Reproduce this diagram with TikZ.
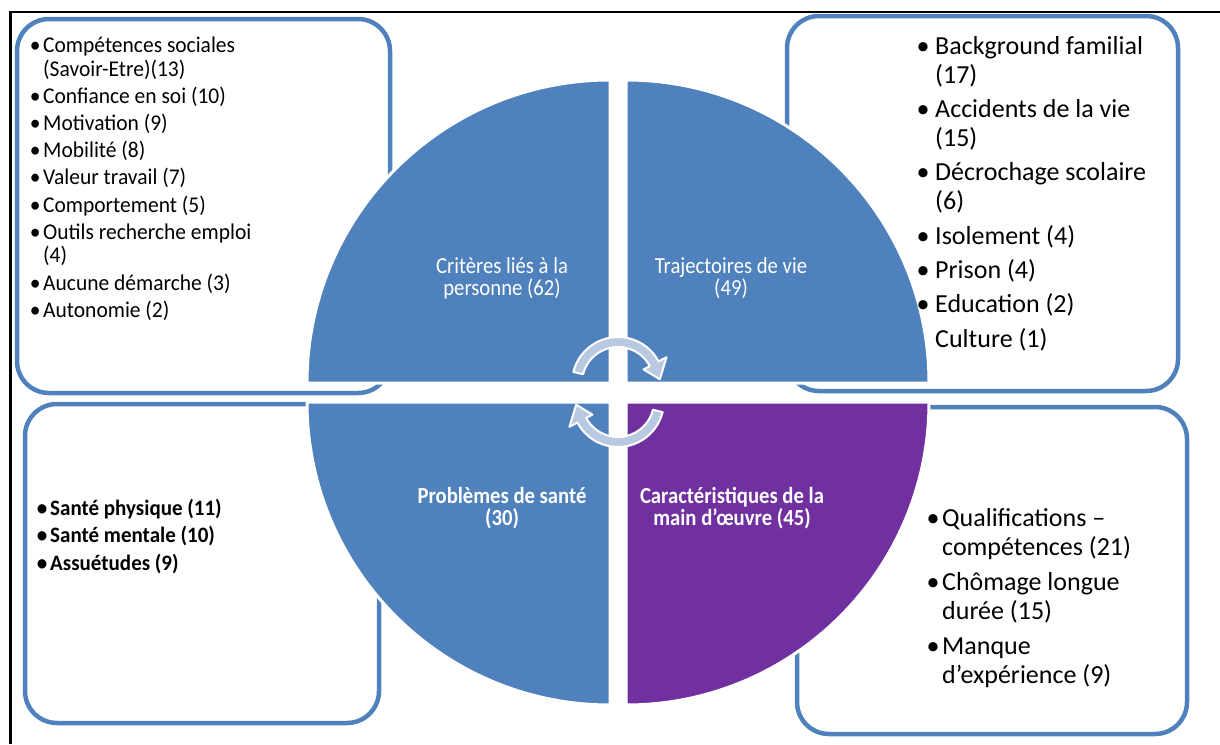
\documentclass[tikz,border=0pt]{standalone}
\usepackage{fontspec}
\setmainfont{Carlito}
\newfontfamily\condfont[FakeStretch=0.9]{Carlito}
\newfontfamily\semicond[FakeStretch=0.955]{Carlito}
\definecolor{qblue}{HTML}{4F81BD}
\definecolor{qpurple}{HTML}{7030A0}
\definecolor{boxblue}{HTML}{4F81BD}
\definecolor{arrowfill}{HTML}{B9C9E2}
\newcommand\bul[1]{\llap{\makebox[#1][c]{•}}}
\begin{document}
\begin{tikzpicture}[x=1pt,y=-1pt,
  listbox/.style={draw=boxblue, line width=4.5pt, fill=white, rounded corners=32pt, inner sep=0pt},
  quad/.style={draw=white, line width=3pt, fill=qblue},
  cyc/.style={fill=arrowfill, draw=white, line width=2pt, line join=round},
  frameline/.style={draw=black, line width=2.5pt},
  plabel/.style={text=white, align=center, inner sep=0pt, font=\condfont\fontsize{23}{22}\selectfont},
  plabelb/.style={plabel, font=\condfont\fontsize{23}{22}\selectfont\bfseries},
  smalllist/.style={anchor=base west, inner sep=0pt, font=\semicond\fontsize{22.5}{23.8}\selectfont},
  biglist/.style={anchor=base west, inner sep=0pt, font=\fontsize{26}{28.9}\selectfont},
  ]
\useasboundingbox (0,0) rectangle (1220,744);
\fill[white] (0,0) rectangle (1220,744);
\draw[frameline] (10.5,744) -- (10.5,12) -- (1220,12);

% list boxes (behind the circle)
\node[listbox, minimum width=373pt, minimum height=374pt] (boxTL) at (203.5,206) {};
\node[listbox, minimum width=391pt, minimum height=375pt] (boxTR) at (982.5,203.5) {};
\node[listbox, minimum width=354pt, minimum height=319pt] (boxBL) at (202,563.5) {};
\node[listbox, minimum width=390pt, minimum height=327pt] (boxBR) at (992,570.5) {};

% quadrants
\path[quad] (610,383) -- (307,383) arc[start angle=180, end angle=270, radius=303] -- cycle;
\path[quad] (626,383) -- (626,80) arc[start angle=270, end angle=360, radius=303] -- cycle;
\path[quad, fill=qpurple] (626,402) -- (929,402) arc[start angle=0, end angle=90, radius=303] -- cycle;
\path[quad] (610,402) -- (610,705) arc[start angle=90, end angle=180, radius=303] -- cycle;

% circular arrows
\begin{scope}[shift={(618,383)}]
\path[cyc] (-166:46) arc[start angle=-166, end angle=-28, radius=46] -- (-28:55) -- (-5:42) -- (-28:29) -- (-28:36) arc[start angle=-28, end angle=-166, radius=36] -- cycle;
\end{scope}
\begin{scope}[shift={(618,401)}]
\path[cyc] (14:46) arc[start angle=14, end angle=152, radius=46] -- (152:55) -- (175:42) -- (152:29) -- (152:36) arc[start angle=152, end angle=14, radius=36] -- cycle;
\end{scope}

% quadrant labels
\node[plabel] (lTL) at (502,278) {Critères liés à la\\personne (62)};
\node[plabel] (lTR) at (731,278) {Trajectoires de vie\\(49)};
\node[plabelb] (lBL) at (502,508.5) {Problèmes de santé\\(30)};
\node[plabelb] (lBR) at (732,508.5) {Caractéristiques de la\\main d’œuvre (45)};

% list texts
\node[smalllist] (tTL) at (43,52.7) {\begin{tabular}[t]{@{}l@{}}
\bul{16pt}Compétences sociales\\
(Savoir-Etre)(13)\\[3.3pt]
\bul{16pt}Confiance en soi (10)\\[3.3pt]
\bul{16pt}Motivation (9)\\[3.3pt]
\bul{16pt}Mobilité (8)\\[3.3pt]
\bul{16pt}Valeur travail (7)\\[3.3pt]
\bul{16pt}Comportement (5)\\[3.3pt]
\bul{16pt}Outils recherche emploi\\
(4)\\[3.3pt]
\bul{16pt}Aucune démarche (3)\\[3.3pt]
\bul{16pt}Autonomie (2)
\end{tabular}};

\node[biglist] (tTR) at (935,54.5) {\begin{tabular}[t]{@{}l@{}}
\bul{24pt}Background familial\\
(17)\\[5.4pt]
\bul{24pt}Accidents de la vie\\
(15)\\[5.4pt]
\bul{24pt}Décrochage scolaire\\
(6)\\[5.4pt]
\bul{24pt}Isolement (4)\\[5.4pt]
\bul{24pt}Prison (4)\\[5.4pt]
\bul{24pt}Education (2)\\[5.4pt]
Culture (1)
\end{tabular}};

\node[smalllist, font=\semicond\fontsize{22}{27.5}\selectfont\bfseries] (tBL) at (50,515) {\begin{tabular}[t]{@{}l@{}}
\bul{16pt}Santé physique (11)\\
\bul{16pt}Santé mentale (10)\\
\bul{16pt}Assuétudes (9)
\end{tabular}};

\node[biglist, font=\fontsize{26}{29.5}\selectfont] (tBR) at (942,526.4) {\begin{tabular}[t]{@{}l@{}}
\bul{18pt}Qualifications –\\
compétences (21)\\[5pt]
\bul{18pt}Chômage longue\\
durée (15)\\[5pt]
\bul{18pt}Manque\\
d’expérience (9)
\end{tabular}};
\end{tikzpicture}
\end{document}
